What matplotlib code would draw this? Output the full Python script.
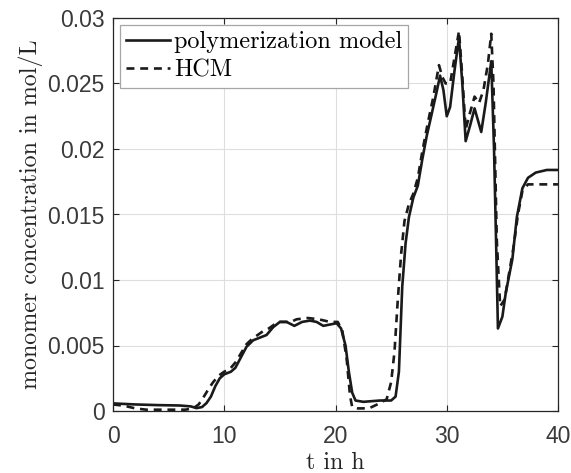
import numpy as np
import matplotlib
matplotlib.use('Agg')
import matplotlib.pyplot as plt

# polymerization model (solid)
t_poly = [0, 2, 4, 6, 7, 7.5, 8.0, 8.4, 8.8, 9.2, 9.6, 10.0, 10.6, 11.0, 11.5,
          12.0, 12.6, 13.2, 13.8, 14.4, 15.0, 15.6, 16.3, 17.0, 17.7, 18.3,
          18.9, 19.5, 20.1, 20.5, 20.9, 21.2, 21.5, 21.8, 22.5, 24.0, 25.0,
          25.4, 25.7, 26.0, 26.3, 26.6, 27.0, 27.4, 27.8, 28.2, 28.6, 29.1,
          29.4, 29.7, 30.0, 30.3, 30.7, 31.1, 31.4, 31.7, 32.1, 32.5, 32.8,
          33.1, 33.5, 34.0, 34.25, 34.45, 34.6, 35.0, 35.3, 35.9, 36.3, 36.8,
          37.3, 38.0, 39.0, 40.0]
c_poly = [0.00058, 0.0005, 0.00045, 0.00042, 0.00035, 0.00022, 0.0003, 0.0006,
          0.0011, 0.0019, 0.0025, 0.0028, 0.0030, 0.0033, 0.0041,
          0.0049, 0.0054, 0.0056, 0.0058, 0.0064, 0.0068, 0.0068, 0.0065,
          0.0068, 0.0069, 0.0068, 0.0065, 0.0066, 0.0067, 0.0063, 0.0050,
          0.0030, 0.0014, 0.0008, 0.0007, 0.0008, 0.0008,
          0.0011, 0.0030, 0.0095, 0.0128, 0.0148, 0.0163, 0.0172, 0.0192,
          0.0210, 0.0225, 0.0244, 0.0256, 0.0245, 0.0225, 0.0232, 0.0260,
          0.0285, 0.0250, 0.0206, 0.0218, 0.0231, 0.0222, 0.0213, 0.0235,
          0.0267, 0.0200, 0.0123, 0.0063, 0.0072, 0.0090, 0.0116, 0.0148,
          0.0170, 0.0178, 0.0182, 0.0184, 0.0184]

# HCM (dashed)
t_hcm = [0, 1, 2, 3, 5, 6.5, 7.2, 7.7, 8.1, 8.6, 9.0, 9.5, 10.0, 10.5, 11.0,
         11.5, 12.0, 12.5, 13.0, 13.5, 14.0, 14.5, 15.0, 16.0, 16.5, 17.5,
         18.5, 19.5, 20.2, 20.6, 21.0, 21.3, 21.5, 22.0, 23.0, 24.0, 24.6,
         25.0, 25.3, 25.6, 25.9, 26.2, 26.6, 27.0, 27.4, 27.8, 28.3, 28.8,
         29.3, 29.6, 29.9, 30.3, 30.7, 31.1, 31.4, 31.7, 32.1, 32.5, 32.9,
         33.3, 33.7, 34.0, 34.2, 34.5, 34.8, 35.2, 35.6, 36.0, 36.4, 36.8,
         37.3, 40.0]
c_hcm = [0.0005, 0.0004, 0.0002, 0.0001, 0.0001, 0.0001, 0.0002, 0.0005, 0.001,
         0.0017, 0.0022, 0.0027, 0.0030, 0.0032, 0.0037,
         0.0044, 0.0051, 0.0055, 0.0058, 0.0061, 0.0063, 0.0066, 0.0068,
         0.0068, 0.0070, 0.0071, 0.0070, 0.0068, 0.0068, 0.0062, 0.0040,
         0.0012, 0.0003, 0.0002, 0.0002, 0.0006, 0.0009,
         0.0022, 0.0045, 0.0085, 0.0120, 0.0145, 0.0158, 0.0166, 0.0178,
         0.0198, 0.0220, 0.0240, 0.0264, 0.0255, 0.0250, 0.0250, 0.0270,
         0.0290, 0.0255, 0.0215, 0.0228, 0.0240, 0.0235, 0.0245, 0.0265,
         0.0288, 0.0250, 0.0130, 0.0080, 0.0085, 0.0105, 0.0125, 0.0150,
         0.0168, 0.0173, 0.0173]

x_ticks = [0, 10, 20, 30, 40]
y_ticks = [0, 0.005, 0.01, 0.015, 0.02, 0.025, 0.03]
y_ticklabels = ['0', '0.005', '0.01', '0.015', '0.02', '0.025', '0.03']

axis_col = '#262626'
tick_font = 'Liberation Sans'
label_font = 'cmr10'

fig = plt.figure(figsize=(5.71, 4.73), dpi=100)
ax = fig.add_axes([113/571, 62/473, 445/571, 393/473])

ax.plot(t_poly, c_poly, '-', color='#1a1a1a', lw=1.9, label='polymerization model')
ax.plot(t_hcm, c_hcm, '--', color='#1a1a1a', lw=1.9, dashes=(3, 2.2), label='HCM')

ax.set_xlim(0, 40)
ax.set_ylim(0, 0.03)
ax.set_xticks(x_ticks)
ax.set_yticks(y_ticks)
ax.set_yticklabels(y_ticklabels)
ax.grid(True, color='#dedede', lw=0.8)
ax.set_axisbelow(True)

for s in ax.spines.values():
    s.set_color(axis_col)
    s.set_linewidth(0.9)
ax.tick_params(direction='in', length=4, width=0.8, color=axis_col,
               top=True, right=True, labelsize=16.5, labelcolor='#3a3a3a')
ax.tick_params(axis='x', pad=10)
ax.tick_params(axis='y', pad=6)
for lab in ax.get_xticklabels() + ax.get_yticklabels():
    lab.set_fontfamily(tick_font)

ax.set_xlabel('t in h', fontfamily=label_font, fontsize=17.3, color=axis_col, labelpad=3)
ax.set_ylabel('monomer concentration in mol/L', fontfamily=label_font, fontsize=17.3,
              color=axis_col, labelpad=3)

leg = ax.legend(loc='upper left', prop={'family': label_font, 'size': 17.5},
                frameon=True, fancybox=False, framealpha=1, edgecolor='#a6a6a6',
                borderpad=0.25, handlelength=1.8, handletextpad=0.15,
                labelspacing=0.25, borderaxespad=0.3)
leg.get_frame().set_linewidth(0.9)

fig.savefig('out.png', dpi=100)
